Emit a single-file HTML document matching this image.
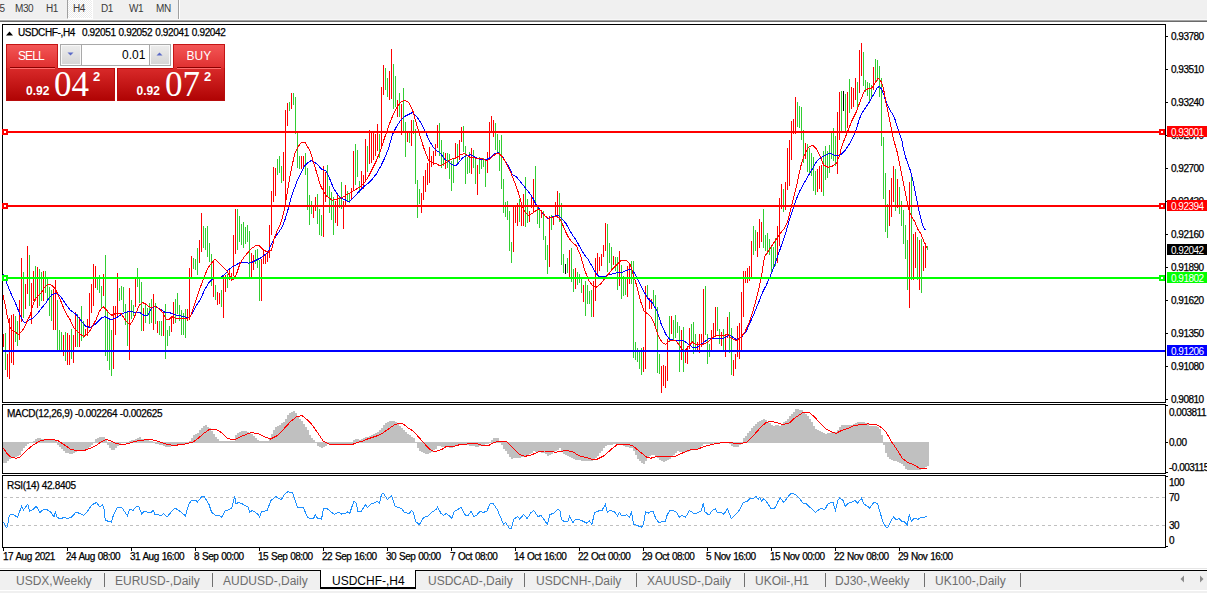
<!DOCTYPE html>
<html><head><meta charset="utf-8">
<style>
*{margin:0;padding:0;box-sizing:border-box}
html,body{width:1207px;height:593px;overflow:hidden;background:#fff}
body{position:relative;font-family:"Liberation Sans",sans-serif;color:#000}
.a{position:absolute}
.t{position:absolute;white-space:nowrap;line-height:1}
.tb{font-size:10px;color:#3a3a3a;letter-spacing:-0.4px}
.ps{-webkit-text-stroke:0.25px #000;font-size:10px;letter-spacing:-0.5px;left:1171px}
.ts{-webkit-text-stroke:0.25px #000;font-size:10px;letter-spacing:-0.55px;word-spacing:0.8px;top:552.3px;color:#000}
.tab{font-size:12px;color:#6d6d6d;top:575px}
.sep{position:absolute;top:573px;width:1px;height:14px;background:#707070}
.lbl{position:absolute;left:1167px;width:40px;height:11px}
.lbl span{position:absolute;left:4px;top:1.5px;font-size:10px;letter-spacing:-0.5px;color:#fff;line-height:1}
</style></head><body>
<!-- toolbar -->
<div class="a" style="left:0;top:0;width:1207px;height:19px;background:#f0f0f0"></div>
<div class="a" style="left:0;top:19px;width:1207px;height:1px;background:#f8f8f8"></div>
<div class="a" style="left:0;top:20px;width:1207px;height:1px;background:#a5a5a5"></div>
<div class="a" style="left:0;top:21px;width:1207px;height:1px;background:#6a6a6a"></div>
<!-- pressed H4 -->
<div class="a" style="left:67px;top:0;width:26px;height:19px;background:repeating-conic-gradient(#ffffff 0 25%,#ececec 0 50%) 0 0/2px 2px;border-left:1px solid #a0a0a0;border-right:1px solid #fff;border-bottom:1px solid #fff"></div>
<div class="a" style="left:178px;top:0;width:1px;height:19px;background:#a0a0a0"></div>
<div class="a" style="left:179px;top:0;width:1px;height:19px;background:#fff"></div>
<div class="t tb" style="left:-0.5px;top:3.5px">5</div>
<div class="t tb" style="left:15px;top:3.5px">M30</div>
<div class="t tb" style="left:46px;top:3.5px">H1</div>
<div class="t tb" style="left:73px;top:3.5px">H4</div>
<div class="t tb" style="left:101px;top:3.5px">D1</div>
<div class="t tb" style="left:129px;top:3.5px">W1</div>
<div class="t tb" style="left:156px;top:3.5px">MN</div>

<!-- chart graphics -->
<svg class="a" style="left:0;top:0" width="1207" height="593" viewBox="0 0 1207 593" shape-rendering="crispEdges">
<!-- frames -->
<rect x="2.5" y="24.5" width="1163" height="378" fill="none" stroke="#000"/>
<rect x="2.5" y="404.5" width="1163" height="69" fill="none" stroke="#000"/>
<rect x="2.5" y="475.5" width="1163" height="72" fill="none" stroke="#000"/>
<!-- price ticks -->
<path d="M1166 36.5h2M1166 69.5h2M1166 102.5h2M1166 135.5h2M1166 168.5h2M1166 201.5h2M1166 234.5h2M1166 267.5h2M1166 300.5h2M1166 333.5h2M1166 366.5h2M1166 399.5h2M1166 405.5h2M1166 442.5h2M1166 472.5h2M1166 476.5h2M1166 546.5h2" stroke="#000"/>
<!-- time ticks -->
<path d="M3.5 548v3M67.5 548v3M131.5 548v3M195.5 548v3M259.5 548v3M323.5 548v3M387.5 548v3M451.5 548v3M515.5 548v3M579.5 548v3M643.5 548v3M707.5 548v3M771.5 548v3M835.5 548v3M899.5 548v3" stroke="#000"/>
<!-- bars -->
<path d="M5.5 333V370M15.5 316V342M17.5 321V346M23.5 272V318M29.5 255V306M35.5 266V301M39.5 269V306M41.5 272V301M45.5 271V293M47.5 279V301M49.5 287V316M51.5 290V321M57.5 300V351M59.5 330V351M61.5 332V351M65.5 332V361M71.5 329V359M77.5 314V347M81.5 306V341M83.5 321V338M97.5 277V290M99.5 275V293M101.5 286V309M105.5 255V356M107.5 310V361M109.5 320V370M111.5 330V376M119.5 288V301M121.5 286V300M123.5 287V312M125.5 304V325M127.5 312V346M131.5 300V319M133.5 305V316M137.5 268V287M139.5 279V303M141.5 282V331M145.5 305V323M147.5 308V315M149.5 303V324M151.5 299V323M155.5 303V324M159.5 321V335M161.5 321V336M165.5 304V359M167.5 330V346M169.5 326V336M175.5 299V323M177.5 293V314M179.5 305V321M181.5 310V335M183.5 313V335M185.5 309V338M193.5 258V269M195.5 259V270M197.5 248V275M203.5 226V248M205.5 228V250M207.5 226V257M209.5 243V262M211.5 254V286M215.5 285V300M221.5 290V307M227.5 274V288M237.5 209V250M239.5 216V242M241.5 224V245M243.5 222V248M245.5 227V244M247.5 225V242M249.5 231V279M255.5 250V264M257.5 249V268M259.5 260V301M277.5 159V175M279.5 156V173M281.5 166V183M289.5 102V111M293.5 93V105M295.5 97V134M297.5 133V168M299.5 156V169M305.5 153V175M307.5 168V210M309.5 195V225M311.5 201V214M317.5 194V224M319.5 209V235M321.5 215V236M327.5 165V196M329.5 186V213M331.5 192V220M333.5 197V235M339.5 197V208M341.5 182V209M347.5 191V202M349.5 193V203M355.5 144V185M357.5 150V177M359.5 181V193M367.5 146V172M379.5 134V158M385.5 68V90M387.5 78V97M393.5 64V109M395.5 76V107M399.5 93V117M403.5 88V133M405.5 122V157M409.5 133V143M413.5 120V134M415.5 129V184M417.5 180V218M419.5 189V204M439.5 123V156M441.5 140V168M443.5 152V166M447.5 153V168M449.5 154V179M451.5 161V191M453.5 158V183M457.5 144V164M463.5 126V152M465.5 146V184M467.5 157V174M469.5 152V173M473.5 150V168M475.5 157V184M479.5 157V174M481.5 159V169M483.5 158V167M485.5 160V187M495.5 123V150M497.5 134V152M499.5 140V171M501.5 135V189M503.5 179V213M505.5 202V217M507.5 201V220M509.5 211V251M511.5 242V263M519.5 199V222M525.5 177V227M527.5 199V223M535.5 166V202M537.5 205V224M539.5 209V228M543.5 211V240M545.5 236V260M547.5 245V274M551.5 215V230M559.5 193V222M561.5 203V265M563.5 254V273M567.5 258V273M571.5 248V282M573.5 269V292M577.5 272V285M579.5 274V283M581.5 279V293M585.5 281V316M587.5 285V304M589.5 291V304M591.5 290V317M607.5 224V272M609.5 243V263M611.5 247V270M615.5 257V271M617.5 257V290M621.5 265V299M623.5 276V296M625.5 277V295M631.5 261V284M633.5 261V358M635.5 342V360M637.5 348V362M639.5 350V369M641.5 348V375M647.5 285V297M653.5 290V306M655.5 295V327M657.5 307V373M659.5 354V374M669.5 316V342M673.5 320V341M675.5 315V338M677.5 322V333M679.5 326V372M683.5 327V372M691.5 324V344M693.5 322V354M695.5 334V351M705.5 286V335M707.5 334V364M709.5 344V357M717.5 307V331M719.5 329V344M723.5 329V351M729.5 312V353M731.5 328V375M753.5 226V255M755.5 230V251M763.5 209V248M765.5 235V251M767.5 233V254M769.5 239V255M771.5 245V272M773.5 247V269M775.5 238V266M783.5 189V212M797.5 102V127M799.5 106V128M801.5 107V140M803.5 130V163M807.5 144V172M809.5 148V173M811.5 153V176M813.5 157V191M815.5 171V195M823.5 151V196M825.5 146V180M827.5 151V178M829.5 145V173M831.5 132V159M833.5 128V161M835.5 136V166M841.5 91V132M845.5 94V133M849.5 79V113M857.5 82V107M863.5 52V86M865.5 80V92M867.5 82V96M869.5 83V102M871.5 85V97M875.5 59V81M877.5 60V81M879.5 66V97M881.5 78V146M883.5 137V199M885.5 173V232M887.5 204V238M895.5 169V211M899.5 187V214M901.5 201V226M903.5 210V244M905.5 225V259M907.5 240V290M911.5 173V280M917.5 237V280M921.5 239V293M927.5 246V250" stroke="#32cd32" stroke-width="1" fill="none"/>
<path d="M3.5 334V347M7.5 354V377M9.5 318V379M11.5 315V363M13.5 314V365M19.5 300V340M21.5 258V322M25.5 284V309M27.5 246V294M31.5 283V324M33.5 271V301M37.5 267V308M43.5 271V301M53.5 289V330M55.5 280V330M63.5 335V356M67.5 333V365M69.5 335V365M73.5 335V363M75.5 312V347M79.5 317V347M85.5 329V336M87.5 319V336M89.5 293V328M91.5 284V313M93.5 264V306M95.5 266V288M103.5 274V296M113.5 306V369M115.5 306V335M117.5 273V318M129.5 288V360M135.5 279V307M143.5 308V331M153.5 294V330M157.5 321V333M163.5 312V336M171.5 316V332M173.5 302V324M187.5 309V321M189.5 268V320M191.5 256V278M199.5 240V263M201.5 213V252M213.5 261V297M217.5 292V305M219.5 293V304M223.5 275V318M225.5 275V292M229.5 269V280M231.5 273V281M233.5 235V276M235.5 209V254M251.5 253V279M253.5 255V270M261.5 259V301M263.5 250V264M265.5 254V264M267.5 253V262M269.5 225V258M271.5 191V235M273.5 167V202M275.5 168V196M283.5 152V181M285.5 110V206M287.5 103V126M291.5 93V109M301.5 156V169M303.5 156V168M313.5 207V218M315.5 197V211M323.5 166V237M325.5 172V202M335.5 201V223M337.5 195V226M343.5 201V229M345.5 185V206M351.5 188V200M353.5 151V190M361.5 171V189M363.5 175V189M365.5 139V181M369.5 130V164M371.5 132V163M373.5 132V160M375.5 134V156M377.5 124V151M381.5 87V147M383.5 65V95M389.5 71V100M391.5 49V99M397.5 100V117M401.5 104V135M407.5 131V142M411.5 120V146M421.5 193V213M423.5 176V200M425.5 170V192M427.5 163V185M429.5 147V183M431.5 156V167M433.5 151V165M435.5 144V156M437.5 125V148M445.5 153V169M455.5 143V158M459.5 140V160M461.5 127V142M471.5 148V174M477.5 165V195M487.5 152V173M489.5 122V157M491.5 116V133M493.5 120V137M513.5 205V252M515.5 206V223M517.5 203V226M521.5 203V226M523.5 194V226M529.5 211V222M531.5 195V208M533.5 179V213M541.5 210V218M549.5 216V267M553.5 216V225M555.5 202V216M557.5 191V216M569.5 250V278M575.5 268V289M583.5 285V302M593.5 281V317M595.5 258V301M597.5 253V276M599.5 257V271M601.5 254V266M603.5 245V257M605.5 223V251M613.5 256V265M619.5 251V286M627.5 266V297M629.5 263V284M643.5 347V372M645.5 286V369M649.5 298V309M651.5 299V309M661.5 366V393M663.5 365V386M665.5 366V388M667.5 339V381M671.5 316V334M681.5 330V360M685.5 349V363M687.5 346V364M689.5 328V349M697.5 342V352M699.5 334V353M701.5 334V347M703.5 289V345M711.5 330V350M713.5 323V337M715.5 307V337M721.5 332V346M725.5 334V357M727.5 317V338M733.5 360V376M735.5 354V369M737.5 326V357M739.5 323V359M741.5 292V351M743.5 271V317M745.5 271V283M747.5 268V283M749.5 266V281M751.5 241V278M757.5 232V257M759.5 219V248M761.5 222V242M777.5 226V263M779.5 198V246M781.5 184V209M785.5 182V210M787.5 148V190M789.5 140V186M791.5 121V160M793.5 119V134M795.5 97V134M805.5 143V159M817.5 169V192M819.5 166V189M821.5 165V192M837.5 112V174M839.5 92V140M847.5 92V128M851.5 87V109M853.5 88V107M855.5 78V100M859.5 50V93M861.5 43V76M873.5 67V90M889.5 190V226M891.5 178V217M893.5 166V202M897.5 179V208M909.5 182V308M913.5 234V280M915.5 232V268M919.5 240V290M923.5 246V271M925.5 243V268" stroke="#ff0000" stroke-width="1" fill="none"/>
<path d="M565.5 264V274M843.5 91V111" stroke="#000" stroke-width="1" fill="none"/>
<!-- MAs -->
<polyline points="3.0,273.7 6.1,281.3 9.1,288.9 12.2,296.5 15.2,302.5 18.2,310.0 20.5,316.2 22.8,320.8 25.1,323.0 27.3,320.8 30.4,319.2 33.4,317.7 36.5,314.7 39.5,310.9 42.5,307.0 45.6,303.3 48.6,298.7 51.6,295.0 55.4,293.4 58.0,294.0 61.1,297.0 64.1,301.6 67.2,306.2 70.2,310.0 73.2,312.3 76.3,314.6 79.3,318.4 82.3,322.2 85.4,326.0 90.0,327.5 93.0,326.0 96.0,323.7 99.0,320.6 102.1,317.6 105.1,316.8 108.2,318.4 111.2,319.9 116.6,317.6 121.1,314.6 125.7,312.3 130.2,311.5 134.8,312.3 139.3,312.3 143.9,315.3 147.7,315.3 151.5,308.5 155.3,306.2 159.1,308.5 162.9,310.8 165.9,313.0 169.0,312.3 172.0,313.8 178.1,315.5 183.0,316.5 188.2,317.6 192.3,313.5 196.4,305.4 200.4,299.3 204.5,290.2 208.5,283.1 212.6,279.0 218.6,278.0 222.7,276.0 226.8,272.0 228.0,270.2 232.0,267.2 236.1,265.1 240.2,262.1 244.2,262.1 248.3,263.1 252.3,262.1 256.4,260.0 260.4,258.0 264.5,255.0 268.5,252.0 270.0,247.2 274.1,239.0 278.1,233.0 282.2,227.0 285.2,218.9 288.2,208.8 291.3,196.7 294.3,188.6 297.3,180.5 301.4,172.4 305.0,165.4 308.0,162.5 311.5,160.3 317.5,164.3 321.6,169.4 325.6,170.4 329.6,178.5 333.7,188.6 337.7,194.6 341.8,198.7 345.0,199.7 349.0,201.9 357.4,193.4 360.0,190.4 364.0,186.3 368.1,183.3 372.2,179.2 376.2,174.2 380.3,167.1 384.3,159.0 388.4,148.9 392.4,134.7 396.5,126.6 400.5,120.5 404.6,116.5 408.6,114.4 412.7,112.4 416.7,116.5 420.8,122.5 424.8,130.6 428.9,139.7 432.9,146.8 437.0,150.9 440.0,152.9 444.4,158.8 448.4,161.8 452.5,164.9 455.5,165.9 458.6,162.8 462.6,157.8 466.7,155.7 470.7,154.7 474.0,156.7 478.0,158.7 482.1,159.7 486.2,159.7 490.2,157.7 494.3,153.7 498.3,152.6 502.4,156.7 506.4,162.8 509.5,167.8 512.5,174.9 516.6,177.0 520.6,182.0 524.7,187.1 528.7,192.2 532.4,197.2 536.4,205.3 540.5,210.3 544.5,215.4 547.6,218.4 551.6,217.4 555.7,215.8 558.7,215.8 561.7,218.4 566.0,223.5 568.0,227.2 572.1,234.3 576.2,240.4 580.2,247.5 584.3,254.6 588.3,259.7 592.4,266.8 596.4,273.9 599.5,276.9 604.5,276.9 608.6,274.9 612.7,273.9 616.7,272.8 620.8,272.8 626.7,270.4 631.4,269.2 635.0,273.9 638.5,281.0 643.3,290.4 648.0,298.7 652.7,303.4 657.4,311.7 661.0,323.5 665.7,334.1 669.2,338.9 674.0,340.5 678.7,340.0 684.0,340.9 688.1,343.9 692.2,347.0 696.2,348.0 700.3,344.9 704.3,341.9 708.4,338.9 714.5,338.9 720.5,338.9 724.6,337.8 728.7,335.8 730.0,335.4 736.1,339.5 741.1,337.4 746.2,331.4 750.3,322.2 754.3,313.1 758.4,303.0 762.4,292.8 766.5,284.7 770.5,275.6 774.6,265.5 776.4,260.0 781.9,244.0 786.3,230.8 790.7,215.5 795.1,202.3 799.5,191.4 803.8,183.7 808.2,176.0 812.6,168.4 817.0,160.7 821.4,157.4 825.8,155.2 830.1,153.0 834.5,155.2 840.0,155.2 841.2,154.4 845.5,150.0 849.5,143.6 853.6,136.2 856.3,129.5 859.0,120.0 861.7,113.2 865.1,108.5 869.1,102.4 872.5,96.4 876.0,90.3 876.8,88.4 879.2,86.4 881.5,89.0 883.5,93.8 885.5,99.9 887.6,105.3 890.3,110.7 893.0,114.7 895.0,119.5 897.0,126.2 899.1,132.3 901.8,140.0 902.7,146.0 905.8,158.0 910.3,170.3 913.3,182.4 916.4,197.6 919.4,212.7 922.4,224.8 925.5,230.3" fill="none" stroke="#0000ff" stroke-width="1"/>
<polyline points="3.0,295.0 5.3,305.6 7.6,317.7 9.9,326.8 12.2,330.6 15.2,332.0 18.2,334.4 21.3,332.0 24.3,327.6 27.3,320.8 30.4,314.7 32.7,305.6 34.9,299.5 38.0,295.7 41.0,293.4 44.0,288.0 47.1,285.0 49.4,284.3 52.4,285.8 55.4,288.9 58.0,294.8 61.1,301.6 64.1,309.2 67.2,315.3 70.2,319.9 73.2,326.7 76.3,330.5 79.3,333.5 83.9,336.6 86.9,334.3 90.0,330.5 93.0,325.2 96.0,319.9 99.0,312.3 101.3,308.5 103.6,307.0 106.6,310.0 109.7,313.8 112.0,315.3 115.0,313.8 118.1,313.0 121.1,313.8 124.2,318.4 127.2,322.2 130.2,324.4 133.3,319.9 136.3,312.3 139.3,305.4 142.4,302.4 145.4,303.9 148.5,306.2 151.5,307.7 154.5,306.2 157.6,307.7 160.6,310.0 163.6,313.8 165.9,319.1 169.0,319.6 172.0,316.8 176.0,318.5 182.0,319.0 187.0,318.5 190.3,316.6 193.3,308.5 196.4,299.3 200.4,287.2 204.5,276.0 208.5,267.0 212.6,261.8 215.0,259.2 218.6,262.8 222.7,267.0 226.8,271.0 229.5,276.0 233.0,280.0 236.5,274.0 240.2,263.0 244.2,257.0 248.3,252.0 252.3,248.0 256.4,245.3 259.4,245.9 262.5,249.0 265.5,251.0 268.5,252.0 271.6,250.0 274.1,239.0 277.1,231.0 280.2,225.0 283.2,214.8 285.2,204.7 287.2,192.6 289.2,180.5 292.3,164.3 295.3,152.2 298.3,146.2 301.4,142.5 305.0,142.1 310.2,151.3 315.3,168.1 320.3,185.0 325.4,195.1 332.1,200.2 340.5,198.5 349.0,193.4 357.4,188.4 360.0,187.3 364.0,183.3 368.1,177.2 372.2,169.1 376.2,161.0 380.3,150.9 384.3,138.7 388.4,126.6 392.4,116.5 396.5,108.4 400.5,102.3 404.6,100.3 408.6,102.3 412.7,110.4 416.7,124.6 420.8,138.7 424.8,150.9 428.9,161.0 432.9,163.0 437.0,164.0 440.0,166.1 444.4,163.9 448.4,160.8 452.5,158.8 456.5,157.8 460.6,154.7 464.7,153.7 467.7,155.7 470.7,157.8 474.0,157.7 478.0,158.7 482.1,158.7 486.2,160.7 489.2,159.7 492.2,156.7 496.3,153.7 499.3,153.7 502.4,156.7 506.4,163.8 510.5,171.9 514.5,182.0 517.6,190.1 520.6,200.3 522.7,207.0 525.3,212.4 528.3,215.4 532.4,213.4 536.4,210.3 539.4,209.3 542.5,212.4 545.5,216.4 548.6,218.4 552.6,217.4 555.7,216.4 558.7,217.4 561.7,222.5 566.0,232.6 568.0,236.4 572.1,242.4 576.2,245.5 580.2,254.6 584.3,268.8 588.3,279.9 592.4,285.4 596.4,287.0 600.5,284.0 604.5,278.9 608.6,273.9 612.7,268.8 616.7,264.7 620.8,260.7 626.7,260.9 630.3,264.4 633.8,276.3 637.4,288.1 640.9,302.2 644.4,311.7 648.0,314.1 651.5,317.6 655.1,325.9 658.6,336.5 662.2,342.4 665.7,344.3 669.2,341.2 672.8,340.0 676.3,341.2 679.9,346.0 684.0,352.0 688.1,347.0 692.2,341.9 696.2,344.9 700.3,344.9 704.3,343.9 708.4,341.9 712.4,337.8 716.5,335.4 720.5,335.8 724.6,335.4 728.7,334.2 730.0,337.4 736.1,340.5 741.1,337.4 745.2,331.4 749.3,322.2 752.3,313.1 755.3,303.0 758.4,290.8 761.4,276.6 764.4,257.0 773.0,244.0 779.7,234.0 784.1,228.6 787.4,222.0 790.7,208.9 794.0,195.8 797.3,182.6 800.5,167.3 803.8,156.3 808.2,147.5 812.6,145.3 817.0,149.7 820.3,156.3 823.6,165.0 828.0,167.3 832.3,166.2 836.7,162.9 840.0,154.1 840.7,150.0 844.1,140.3 846.8,133.5 849.5,126.8 852.2,120.0 854.2,116.0 856.3,111.9 858.3,106.5 860.3,101.1 863.0,94.3 865.1,90.3 867.8,88.9 870.5,88.9 873.2,86.2 876.0,81.5 878.1,78.2 880.8,81.0 882.8,85.7 884.2,92.4 885.5,100.5 887.6,110.0 889.6,119.5 891.6,130.3 893.6,140.0 896.7,150.0 899.7,164.2 902.7,179.4 905.8,194.5 908.8,209.7 911.8,217.3 914.8,221.8 917.9,229.4 920.9,234.0 923.9,241.5 927.0,247.6" fill="none" stroke="#ff0000" stroke-width="1"/>
<!-- horizontal lines -->
<rect x="3" y="131" width="1162" height="2" fill="#ff0000"/>
<rect x="3" y="205" width="1162" height="2" fill="#ff0000"/>
<rect x="3" y="277" width="1162" height="2" fill="#00ff00"/>
<rect x="3" y="350" width="1162" height="2" fill="#0000ff"/>
<!-- markers -->
<g fill="#fff" stroke-width="2">
<rect x="3" y="130" width="4" height="4" stroke="#ff0000"/>
<rect x="1160" y="130" width="4" height="4" stroke="#ff0000"/>
<rect x="3" y="204" width="4" height="4" stroke="#ff0000"/>
<rect x="1160" y="204" width="4" height="4" stroke="#ff0000"/>
<rect x="3" y="276" width="4" height="4" stroke="#00ff00"/>
<rect x="1160" y="276" width="4" height="4" stroke="#00ff00"/>
</g>
<!-- MACD -->
<path d="M3 442h2V463h-2zM5 442h2V463h-2zM7 442h2V461h-2zM9 442h2V459h-2zM11 442h2V458h-2zM13 442h2V458h-2zM15 442h2V457h-2zM17 442h2V456h-2zM19 442h2V455h-2zM21 442h2V451h-2zM23 442h2V448h-2zM25 442h2V446h-2zM27 442h2V444h-2zM29 442h2V443h-2zM31 442h2V443h-2zM33 441h2V443h-2zM35 439h2V443h-2zM37 438h2V443h-2zM39 438h2V443h-2zM41 439h2V443h-2zM43 439h2V443h-2zM45 439h2V443h-2zM47 439h2V443h-2zM49 439h2V443h-2zM51 440h2V443h-2zM53 440h2V443h-2zM55 441h2V443h-2zM57 442h2V445h-2zM59 442h2V447h-2zM61 442h2V449h-2zM63 442h2V451h-2zM65 442h2V453h-2zM67 442h2V453h-2zM69 442h2V454h-2zM71 442h2V454h-2zM73 442h2V453h-2zM75 442h2V452h-2zM77 442h2V451h-2zM79 442h2V451h-2zM81 442h2V451h-2zM83 442h2V450h-2zM85 442h2V450h-2zM87 442h2V449h-2zM89 442h2V447h-2zM91 442h2V445h-2zM93 442h2V443h-2zM95 439h2V443h-2zM97 438h2V443h-2zM99 437h2V443h-2zM101 437h2V443h-2zM103 437h2V443h-2zM105 440h2V443h-2zM107 442h2V445h-2zM109 442h2V448h-2zM111 442h2V450h-2zM113 442h2V450h-2zM115 442h2V448h-2zM117 442h2V446h-2zM119 442h2V444h-2zM121 442h2V443h-2zM123 442h2V443h-2zM125 442h2V443h-2zM127 442h2V443h-2zM129 441h2V443h-2zM131 440h2V443h-2zM133 440h2V443h-2zM135 439h2V443h-2zM137 438h2V443h-2zM139 437h2V443h-2zM141 439h2V443h-2zM143 439h2V443h-2zM145 440h2V443h-2zM147 440h2V443h-2zM149 441h2V443h-2zM151 441h2V443h-2zM153 442h2V443h-2zM155 442h2V444h-2zM157 442h2V444h-2zM159 442h2V445h-2zM161 442h2V445h-2zM163 442h2V446h-2zM165 442h2V447h-2zM167 442h2V447h-2zM169 442h2V447h-2zM171 442h2V446h-2zM173 442h2V446h-2zM175 442h2V445h-2zM177 442h2V445h-2zM179 442h2V444h-2zM181 442h2V444h-2zM183 442h2V444h-2zM185 442h2V444h-2zM187 442h2V443h-2zM189 441h2V443h-2zM191 438h2V443h-2zM193 435h2V443h-2zM195 434h2V443h-2zM197 433h2V443h-2zM199 430h2V443h-2zM201 428h2V443h-2zM203 426h2V443h-2zM205 425h2V443h-2zM207 427h2V443h-2zM209 428h2V443h-2zM211 431h2V443h-2zM213 434h2V443h-2zM215 437h2V443h-2zM217 439h2V443h-2zM219 441h2V443h-2zM221 441h2V443h-2zM223 441h2V443h-2zM225 441h2V443h-2zM227 441h2V443h-2zM229 441h2V443h-2zM231 441h2V443h-2zM233 441h2V443h-2zM235 435h2V443h-2zM237 433h2V443h-2zM239 432h2V443h-2zM241 431h2V443h-2zM243 431h2V443h-2zM245 431h2V443h-2zM247 432h2V443h-2zM249 433h2V443h-2zM251 434h2V443h-2zM253 436h2V443h-2zM255 438h2V443h-2zM257 440h2V443h-2zM259 441h2V443h-2zM261 441h2V443h-2zM263 441h2V443h-2zM265 441h2V443h-2zM267 441h2V443h-2zM269 438h2V443h-2zM271 434h2V443h-2zM273 430h2V443h-2zM275 427h2V443h-2zM277 426h2V443h-2zM279 425h2V443h-2zM281 423h2V443h-2zM283 422h2V443h-2zM285 419h2V443h-2zM287 415h2V443h-2zM289 413h2V443h-2zM291 412h2V443h-2zM293 411h2V443h-2zM295 413h2V443h-2zM297 416h2V443h-2zM299 419h2V443h-2zM301 421h2V443h-2zM303 424h2V443h-2zM305 427h2V443h-2zM307 430h2V443h-2zM309 435h2V443h-2zM311 438h2V443h-2zM313 440h2V443h-2zM315 442h2V443h-2zM317 442h2V446h-2zM319 442h2V447h-2zM321 442h2V448h-2zM323 442h2V447h-2zM325 442h2V446h-2zM327 442h2V444h-2zM329 442h2V444h-2zM331 442h2V444h-2zM333 442h2V444h-2zM335 442h2V444h-2zM337 442h2V444h-2zM339 442h2V444h-2zM341 442h2V444h-2zM343 442h2V444h-2zM345 442h2V444h-2zM347 442h2V444h-2zM349 442h2V444h-2zM351 442h2V444h-2zM353 440h2V443h-2zM355 439h2V443h-2zM357 439h2V443h-2zM359 440h2V443h-2zM361 439h2V443h-2zM363 438h2V443h-2zM365 437h2V443h-2zM367 437h2V443h-2zM369 436h2V443h-2zM371 435h2V443h-2zM373 434h2V443h-2zM375 433h2V443h-2zM377 432h2V443h-2zM379 430h2V443h-2zM381 428h2V443h-2zM383 425h2V443h-2zM385 423h2V443h-2zM387 422h2V443h-2zM389 421h2V443h-2zM391 421h2V443h-2zM393 421h2V443h-2zM395 422h2V443h-2zM397 424h2V443h-2zM399 426h2V443h-2zM401 428h2V443h-2zM403 430h2V443h-2zM405 432h2V443h-2zM407 434h2V443h-2zM409 435h2V443h-2zM411 437h2V443h-2zM413 438h2V443h-2zM415 442h2V443h-2zM417 442h2V448h-2zM419 442h2V451h-2zM421 442h2V452h-2zM423 442h2V453h-2zM425 442h2V454h-2zM427 442h2V454h-2zM429 442h2V453h-2zM431 442h2V452h-2zM433 442h2V450h-2zM435 442h2V449h-2zM437 442h2V446h-2zM439 442h2V446h-2zM441 442h2V447h-2zM443 442h2V447h-2zM445 442h2V447h-2zM447 442h2V447h-2zM449 442h2V448h-2zM451 442h2V448h-2zM453 442h2V447h-2zM455 442h2V446h-2zM457 442h2V446h-2zM459 442h2V445h-2zM461 442h2V444h-2zM463 442h2V444h-2zM465 442h2V445h-2zM467 442h2V445h-2zM469 442h2V446h-2zM471 442h2V446h-2zM473 442h2V446h-2zM475 442h2V447h-2zM477 442h2V447h-2zM479 442h2V446h-2zM481 442h2V445h-2zM483 442h2V445h-2zM485 442h2V444h-2zM487 442h2V444h-2zM489 442h2V443h-2zM491 440h2V443h-2zM493 438h2V443h-2zM495 438h2V443h-2zM497 438h2V443h-2zM499 441h2V443h-2zM501 442h2V445h-2zM503 442h2V449h-2zM505 442h2V451h-2zM507 442h2V454h-2zM509 442h2V457h-2zM511 442h2V459h-2zM513 442h2V458h-2zM515 442h2V458h-2zM517 442h2V458h-2zM519 442h2V458h-2zM521 442h2V457h-2zM523 442h2V457h-2zM525 442h2V456h-2zM527 442h2V455h-2zM529 442h2V454h-2zM531 442h2V453h-2zM533 442h2V451h-2zM535 442h2V452h-2zM537 442h2V452h-2zM539 442h2V452h-2zM541 442h2V453h-2zM543 442h2V453h-2zM545 442h2V454h-2zM547 442h2V456h-2zM549 442h2V455h-2zM551 442h2V454h-2zM553 442h2V452h-2zM555 442h2V451h-2zM557 442h2V450h-2zM559 442h2V448h-2zM561 442h2V451h-2zM563 442h2V454h-2zM565 442h2V455h-2zM567 442h2V456h-2zM569 442h2V457h-2zM571 442h2V458h-2zM573 442h2V459h-2zM575 442h2V460h-2zM577 442h2V460h-2zM579 442h2V460h-2zM581 442h2V461h-2zM583 442h2V461h-2zM585 442h2V461h-2zM587 442h2V461h-2zM589 442h2V461h-2zM591 442h2V461h-2zM593 442h2V460h-2zM595 442h2V458h-2zM597 442h2V456h-2zM599 442h2V453h-2zM601 442h2V451h-2zM603 442h2V448h-2zM605 442h2V446h-2zM607 442h2V445h-2zM609 442h2V445h-2zM611 442h2V445h-2zM613 442h2V444h-2zM615 442h2V444h-2zM617 442h2V444h-2zM619 442h2V445h-2zM621 442h2V445h-2zM623 442h2V446h-2zM625 442h2V447h-2zM627 442h2V447h-2zM629 442h2V448h-2zM631 442h2V448h-2zM633 442h2V451h-2zM635 442h2V455h-2zM637 442h2V459h-2zM639 442h2V461h-2zM641 442h2V463h-2zM643 442h2V464h-2zM645 442h2V461h-2zM647 442h2V458h-2zM649 442h2V456h-2zM651 442h2V455h-2zM653 442h2V455h-2zM655 442h2V456h-2zM657 442h2V458h-2zM659 442h2V460h-2zM661 442h2V461h-2zM663 442h2V462h-2zM665 442h2V461h-2zM667 442h2V460h-2zM669 442h2V459h-2zM671 442h2V457h-2zM673 442h2V455h-2zM675 442h2V453h-2zM677 442h2V451h-2zM679 442h2V452h-2zM681 442h2V452h-2zM683 442h2V453h-2zM685 442h2V452h-2zM687 442h2V452h-2zM689 442h2V451h-2zM691 442h2V450h-2zM693 442h2V449h-2zM695 442h2V449h-2zM697 442h2V449h-2zM699 442h2V448h-2zM701 442h2V446h-2zM703 442h2V444h-2zM705 442h2V444h-2zM707 442h2V444h-2zM709 442h2V444h-2zM711 442h2V444h-2zM713 442h2V443h-2zM715 442h2V443h-2zM717 442h2V443h-2zM719 442h2V443h-2zM721 442h2V443h-2zM723 442h2V443h-2zM725 442h2V443h-2zM727 442h2V443h-2zM729 442h2V444h-2zM731 442h2V446h-2zM733 442h2V447h-2zM735 442h2V447h-2zM737 442h2V447h-2zM739 442h2V445h-2zM741 442h2V443h-2zM743 438h2V443h-2zM745 436h2V443h-2zM747 433h2V443h-2zM749 431h2V443h-2zM751 428h2V443h-2zM753 426h2V443h-2zM755 424h2V443h-2zM757 422h2V443h-2zM759 421h2V443h-2zM761 420h2V443h-2zM763 419h2V443h-2zM765 420h2V443h-2zM767 422h2V443h-2zM769 423h2V443h-2zM771 425h2V443h-2zM773 426h2V443h-2zM775 425h2V443h-2zM777 425h2V443h-2zM779 426h2V443h-2zM781 424h2V443h-2zM783 422h2V443h-2zM785 421h2V443h-2zM787 419h2V443h-2zM789 416h2V443h-2zM791 414h2V443h-2zM793 412h2V443h-2zM795 409h2V443h-2zM797 409h2V443h-2zM799 410h2V443h-2zM801 410h2V443h-2zM803 412h2V443h-2zM805 414h2V443h-2zM807 416h2V443h-2zM809 419h2V443h-2zM811 422h2V443h-2zM813 426h2V443h-2zM815 429h2V443h-2zM817 430h2V443h-2zM819 431h2V443h-2zM821 432h2V443h-2zM823 433h2V443h-2zM825 434h2V443h-2zM827 433h2V443h-2zM829 433h2V443h-2zM831 432h2V443h-2zM833 432h2V443h-2zM835 432h2V443h-2zM837 430h2V443h-2zM839 427h2V443h-2zM841 425h2V443h-2zM843 425h2V443h-2zM845 425h2V443h-2zM847 425h2V443h-2zM849 425h2V443h-2zM851 425h2V443h-2zM853 424h2V443h-2zM855 423h2V443h-2zM857 422h2V443h-2zM859 422h2V443h-2zM861 422h2V443h-2zM863 422h2V443h-2zM865 423h2V443h-2zM867 424h2V443h-2zM869 426h2V443h-2zM871 426h2V443h-2zM873 426h2V443h-2zM875 426h2V443h-2zM877 427h2V443h-2zM879 429h2V443h-2zM881 435h2V443h-2zM883 442h2V445h-2zM885 442h2V453h-2zM887 442h2V457h-2zM889 442h2V459h-2zM891 442h2V460h-2zM893 442h2V461h-2zM895 442h2V461h-2zM897 442h2V462h-2zM899 442h2V463h-2zM901 442h2V464h-2zM903 442h2V466h-2zM905 442h2V469h-2zM907 442h2V470h-2zM909 442h2V470h-2zM911 442h2V470h-2zM913 442h2V470h-2zM915 442h2V470h-2zM917 442h2V470h-2zM919 442h2V470h-2zM921 442h2V469h-2zM923 442h2V468h-2zM925 442h2V467h-2zM927 442h2V466h-2z" fill="#c0c0c0"/>
<polyline points="3.3,447.7 6.6,453.0 10.6,457.0 15.9,458.3 19.9,457.0 26.5,450.4 33.1,445.0 39.8,441.0 46.4,439.5 53.0,439.5 58.3,440.8 63.6,444.4 70.3,449.0 76.9,451.0 83.5,450.7 90.1,448.4 96.8,445.0 102.0,441.4 106.0,439.5 110.0,440.5 115.3,443.0 122.0,445.0 127.3,443.8 132.6,442.2 139.2,440.5 148.5,439.5 155.0,440.2 161.6,442.4 168.3,444.8 174.9,445.4 181.5,444.4 186.8,443.8 193.4,441.8 198.7,437.8 204.0,433.2 209.3,429.5 216.0,429.5 221.3,432.5 226.6,437.8 231.9,439.8 235.9,439.1 241.2,436.5 247.8,433.8 251.8,432.5 258.4,433.8 265.0,436.9 270.3,439.1 277.0,435.8 283.6,429.2 290.2,421.9 296.8,416.6 302.1,415.7 307.4,419.9 311.4,424.0 316.6,431.2 323.3,441.1 329.9,444.4 352.4,444.4 357.7,442.4 363.0,441.1 368.3,438.7 376.3,436.1 381.6,433.8 388.2,429.2 394.8,424.5 398.8,423.6 402.8,423.6 408.1,427.9 413.4,431.2 418.7,437.1 424.0,443.1 429.3,449.0 433.3,451.0 437.3,451.0 442.6,449.0 446.5,446.4 453.2,446.4 458.5,445.0 463.8,444.4 471.6,443.5 476.9,443.8 482.2,445.4 488.9,445.4 494.2,442.4 499.5,441.4 506.1,441.4 512.7,447.7 519.3,454.4 524.7,456.4 531.3,455.0 537.9,452.0 544.5,451.0 551.2,451.0 555.1,452.4 560.4,451.5 565.7,450.4 572.4,451.5 579.0,455.7 587.0,457.7 592.3,459.4 597.6,459.0 604.2,455.7 610.8,449.7 617.4,444.4 628.0,444.4 633.3,446.2 639.9,451.7 646.5,457.0 650.5,458.3 657.1,456.4 666.4,456.8 674.3,457.0 681.0,453.7 688.9,450.1 698.2,449.0 704.8,446.2 712.8,444.4 718.1,443.1 726.0,442.7 731.3,442.4 736.6,444.0 742.0,443.4 747.3,441.8 752.6,436.5 757.9,430.5 761.8,426.3 765.8,422.8 771.1,421.2 776.4,422.6 781.6,424.1 788.3,423.9 794.9,417.9 802.8,412.6 809.5,412.6 814.8,417.3 820.1,423.2 825.4,428.5 832.0,432.1 836.0,433.4 841.3,430.5 847.9,428.5 854.5,425.5 861.2,424.5 867.8,423.9 875.7,424.5 881.0,427.2 886.3,432.5 891.6,441.8 897.0,449.7 902.3,458.3 907.5,462.3 914.2,465.0 919.5,468.3 926.8,468.3" fill="none" stroke="#ff0000" stroke-width="1"/>
<!-- RSI levels -->
<line x1="4" y1="497.5" x2="1165" y2="497.5" stroke="#c0c0c0" stroke-dasharray="3 3"/>
<line x1="4" y1="525.5" x2="1165" y2="525.5" stroke="#c0c0c0" stroke-dasharray="3 3"/>
<polyline points="3.4,522.0 6.1,527.3 7.4,526.7 9.4,515.2 12.8,514.5 17.5,517.2 21.6,506.4 23.6,509.8 27.7,504.4 29.7,511.1 32.4,509.8 36.4,506.4 39.8,512.5 43.2,509.8 47.2,509.8 51.3,512.5 54.0,517.2 55.3,511.8 56.7,516.5 60.0,519.2 64.1,517.2 66.8,518.6 71.5,517.2 75.6,512.5 79.6,513.2 83.7,515.2 87.7,511.1 91.8,505.0 96.5,502.4 99.9,507.1 102.6,505.0 103.9,508.4 105.3,519.9 108.0,521.3 111.3,522.0 113.4,515.2 117.4,507.1 121.5,507.1 124.2,511.1 127.5,515.9 129.6,509.1 132.9,510.5 136.3,506.4 139.0,507.1 141.7,513.8 144.4,511.1 148.4,512.5 151.1,512.5 153.2,510.5 155.2,514.9 157.7,514.5 161.1,515.5 163.8,513.6 167.1,517.2 171.2,511.8 175.2,508.2 180.6,511.8 185.4,515.9 188.7,504.4 191.4,500.3 195.5,500.3 197.5,502.0 201.6,496.6 204.3,496.6 209.0,504.4 211.7,512.5 215.7,515.5 219.1,515.2 221.8,517.2 225.2,510.5 227.9,510.0 231.9,507.8 234.6,496.3 236.0,503.7 238.7,502.4 242.7,504.1 248.1,507.1 249.5,512.2 252.2,510.5 257.6,513.8 259.6,517.2 261.6,511.8 267.0,510.5 271.1,500.3 275.8,496.6 281.2,499.7 284.6,494.3 287.9,491.6 292.7,492.9 297.4,507.4 303.4,507.8 307.5,517.2 310.0,518.6 313.4,518.6 315.4,514.9 317.4,518.2 321.5,519.2 323.5,508.7 326.9,508.4 330.2,511.1 334.3,514.5 338.3,512.2 341.7,514.1 345.8,513.2 347.8,511.8 349.8,513.2 351.8,507.1 353.9,501.4 355.9,502.4 357.9,511.4 361.3,511.4 365.3,504.4 367.4,507.4 371.4,503.7 374.8,502.8 377.5,501.4 379.5,503.3 381.5,494.3 383.5,493.3 387.6,499.7 391.6,495.6 395.0,506.4 399.1,507.8 401.8,508.7 403.8,511.8 409.2,513.8 411.2,510.5 413.2,512.5 415.9,521.7 419.3,524.6 423.4,517.9 428.8,515.5 432.8,511.4 435.5,510.5 437.5,506.8 440.9,513.2 443.6,515.5 446.3,513.2 451.7,518.2 454.4,511.4 457.1,510.0 461.1,507.4 465.2,514.9 467.7,515.9 471.1,511.4 473.8,516.3 476.5,515.5 479.8,511.4 482.5,512.2 486.6,511.8 490.0,503.7 493.3,503.7 497.4,509.8 500.8,517.9 503.5,524.0 505.5,522.6 509.5,528.4 511.6,528.0 513.6,519.2 517.6,516.5 519.7,519.2 523.7,514.5 527.1,518.6 531.1,512.5 533.8,510.5 537.9,516.5 541.2,515.5 547.3,524.4 550.0,514.5 554.1,513.2 558.1,509.1 560.1,511.1 561.5,519.9 564.9,521.7 567.6,521.9 569.6,516.3 573.0,522.6 575.7,519.2 579.0,519.5 582.4,520.9 586.5,523.0 589.2,520.9 591.9,524.4 594.6,512.5 597.9,511.1 602.0,510.5 605.3,504.4 607.4,512.2 610.1,510.5 614.1,511.4 617.5,515.9 619.5,512.5 621.5,515.5 626.7,514.9 629.4,517.2 631.5,512.2 633.5,524.0 636.9,525.3 641.6,527.3 643.6,524.0 645.6,511.8 648.3,513.2 651.0,511.4 653.1,511.4 655.8,518.6 659.1,523.0 662.5,521.3 665.2,521.3 667.2,514.9 669.9,510.5 673.3,510.5 676.7,512.5 679.4,517.2 682.1,515.5 685.5,517.2 689.5,510.5 694.9,514.1 701.0,511.1 703.4,503.3 705.0,511.8 709.1,515.2 711.8,511.1 715.1,508.7 717.2,512.2 721.2,512.2 723.9,514.5 727.3,508.4 731.3,518.6 738.1,512.2 743.5,502.4 747.5,501.0 750.2,498.3 753.6,498.3 755.6,496.3 758.3,499.0 759.7,497.4 761.7,501.4 763.7,498.3 768.4,504.4 771.1,509.1 775.2,507.8 777.9,501.7 780.4,497.9 783.8,502.4 787.8,497.0 791.2,493.3 795.2,494.3 799.3,498.3 803.3,503.7 806.0,503.3 809.4,506.8 815.5,512.2 820.9,508.2 824.9,509.5 828.3,503.3 833.0,502.4 835.5,510.5 837.8,500.3 839.8,497.9 843.2,500.6 845.2,506.4 847.9,503.3 851.9,502.0 855.3,500.6 857.3,503.3 861.4,498.3 864.1,504.1 868.1,506.8 869.5,508.2 874.2,502.0 877.6,503.7 880.3,513.2 883.0,522.0 885.7,526.7 887.7,528.0 891.1,520.6 893.8,516.5 895.8,519.9 899.2,518.6 901.9,521.3 904.6,521.9 907.3,525.3 909.3,514.5 911.3,521.3 914.0,518.6 916.7,518.6 918.0,519.5 920.7,517.2 923.4,517.6 926.8,516.3" fill="none" stroke="#1e90ff" stroke-width="1"/>
</svg>

<!-- title -->
<svg class="a" style="left:6px;top:31px" width="8" height="5"><polygon points="0,4.5 3.5,0.5 7,4.5" fill="#000"/></svg>
<div class="t" style="-webkit-text-stroke:0.25px #000;left:18px;top:27.5px;font-size:10px;letter-spacing:-0.35px;word-spacing:0.5px">USDCHF-,H4&nbsp;&nbsp;<span style="margin-left:1px"></span>0.92051 0.92052 0.92041 0.92042</div>

<!-- trade panel -->
<div class="a" style="left:6px;top:44px;width:52px;height:24px;background:linear-gradient(#f35656,#df2e2e);border:1px solid #c41414;border-bottom:none"></div>
<div class="a" style="left:173px;top:44px;width:52px;height:24px;background:linear-gradient(#f35656,#e03030);border:1px solid #c41414;border-bottom:none"></div>
<div class="a" style="left:6px;top:68px;width:109px;height:33px;background:linear-gradient(#d92a2a,#b00404);border:1px solid #b80c0c;border-top:none"></div>
<div class="a" style="left:117px;top:68px;width:108px;height:33px;background:linear-gradient(#d92a2a,#b00404);border:1px solid #b80c0c;border-top:none"></div>
<div class="a" style="left:10px;top:67px;width:45px;height:1px;background:#8a0000"></div>
<div class="a" style="left:10px;top:68px;width:45px;height:1px;background:#ff6e6e"></div>
<div class="a" style="left:177px;top:67px;width:44px;height:1px;background:#8a0000"></div>
<div class="a" style="left:177px;top:68px;width:44px;height:1px;background:#ff6e6e"></div>
<div class="t" style="left:18px;top:50px;font-size:12px;color:#fff;letter-spacing:-0.9px">SELL</div>
<div class="t" style="left:186.5px;top:50px;font-size:12px;color:#fff">BUY</div>
<div class="t" style="left:26px;top:85px;font-size:12px;font-weight:bold;color:#fff">0.92</div>
<div class="t" style="left:54px;top:67px;font-size:35px;font-family:'Liberation Serif',serif;letter-spacing:0px;color:#fff">04</div>
<div class="t" style="left:93px;top:70px;font-size:13px;font-weight:bold;color:#fff">2</div>
<div class="t" style="left:136.5px;top:85px;font-size:12px;font-weight:bold;color:#fff">0.92</div>
<div class="t" style="left:165px;top:67px;font-size:35px;font-family:'Liberation Serif',serif;letter-spacing:0px;color:#fff">07</div>
<div class="t" style="left:204px;top:70px;font-size:13px;font-weight:bold;color:#fff">2</div>
<div class="a" style="left:58px;top:68px;width:57px;height:1px;background:#c00a0a"></div>
<div class="a" style="left:117px;top:68px;width:56px;height:1px;background:#c00a0a"></div>
<!-- spin -->
<div class="a" style="left:60px;top:44px;width:111px;height:22px;background:#fff;border:1px solid #a9a9a9"></div>
<div class="a" style="left:61px;top:45px;width:20px;height:20px;background:linear-gradient(#ececec,#d6d6d6);border:1px solid #f8f8f8"></div>
<div class="a" style="left:81px;top:45px;width:1px;height:20px;background:#a9a9a9"></div>
<div class="a" style="left:149px;top:45px;width:1px;height:20px;background:#a9a9a9"></div>
<div class="a" style="left:150px;top:45px;width:20px;height:20px;background:linear-gradient(#ececec,#d6d6d6);border:1px solid #f8f8f8"></div>
<svg class="a" style="left:67px;top:52px" width="8" height="5"><polygon points="0.5,0.5 6.5,0.5 3.5,3.5" fill="#5a6ac8"/></svg>
<svg class="a" style="left:156px;top:52px" width="8" height="5"><polygon points="0.5,3.5 6.5,3.5 3.5,0.5" fill="#5a6ac8"/></svg>
<div class="t" style="left:122px;top:48.5px;font-size:12px;color:#000">0.01</div>

<!-- price scale labels -->
<div class="t ps" style="top:31.5px">0.93780</div>
<div class="t ps" style="top:64.5px">0.93510</div>
<div class="t ps" style="top:97.5px">0.93240</div>
<div class="t ps" style="top:130.5px">0.92970</div>
<div class="t ps" style="top:163.5px">0.92700</div>
<div class="t ps" style="top:196.5px">0.92430</div>
<div class="t ps" style="top:229.5px">0.92160</div>
<div class="t ps" style="top:262.5px">0.91890</div>
<div class="t ps" style="top:295.5px">0.91620</div>
<div class="t ps" style="top:328.5px">0.91350</div>
<div class="t ps" style="top:361.5px">0.91080</div>
<div class="t ps" style="top:394.5px">0.90810</div>
<div class="lbl" style="top:126px;background:#ff0000"><span>0.93001</span></div>
<div class="lbl" style="top:200px;background:#ff0000"><span>0.92394</span></div>
<div class="lbl" style="top:244px;background:#000"><span>0.92042</span></div>
<div class="lbl" style="top:272px;background:#00ff00"><span>0.91802</span></div>
<div class="lbl" style="top:345px;background:#0000ff"><span>0.91206</span></div>

<!-- MACD labels -->
<div class="t" style="-webkit-text-stroke:0.25px #000;left:7px;top:409px;font-size:10px;letter-spacing:-0.3px">MACD(12,26,9) -0.002264 -0.002625</div>
<div class="t ps" style="left:1169px;top:408px">0.003811</div>
<div class="t ps" style="left:1169px;top:437.5px">0.00</div>
<div class="t ps" style="left:1169px;top:462.5px">-0.003115</div>
<!-- RSI labels -->
<div class="t" style="-webkit-text-stroke:0.25px #000;left:7px;top:480.5px;font-size:10px;letter-spacing:-0.3px">RSI(14) 42.8405</div>
<div class="t ps" style="left:1169px;top:477.5px">100</div>
<div class="t ps" style="left:1169px;top:492.5px">70</div>
<div class="t ps" style="left:1169px;top:520.5px">30</div>
<div class="t ps" style="left:1169px;top:535.5px">0</div>

<!-- time axis -->
<div class="t ts" style="left:3px">17 Aug 2021</div>
<div class="t ts" style="left:66px">24 Aug 08:00</div>
<div class="t ts" style="left:130px">31 Aug 16:00</div>
<div class="t ts" style="left:194px">8 Sep 00:00</div>
<div class="t ts" style="left:258px">15 Sep 08:00</div>
<div class="t ts" style="left:322px">22 Sep 16:00</div>
<div class="t ts" style="left:386px">30 Sep 00:00</div>
<div class="t ts" style="left:450px">7 Oct 08:00</div>
<div class="t ts" style="left:514px">14 Oct 16:00</div>
<div class="t ts" style="left:578px">22 Oct 00:00</div>
<div class="t ts" style="left:642px">29 Oct 08:00</div>
<div class="t ts" style="left:706px">5 Nov 16:00</div>
<div class="t ts" style="left:770px">15 Nov 00:00</div>
<div class="t ts" style="left:834px">22 Nov 08:00</div>
<div class="t ts" style="left:898px">29 Nov 16:00</div>

<!-- tab bar -->
<div class="a" style="left:0;top:568px;width:1207px;height:1px;background:#e6e6e6"></div>
<div class="a" style="left:0;top:570px;width:1207px;height:1px;background:#000"></div>
<div class="a" style="left:0;top:571px;width:1207px;height:19px;background:#f0f0f0"></div>
<div class="a" style="left:0;top:590px;width:1207px;height:1px;background:#fff"></div>
<div class="a" style="left:0;top:591px;width:1207px;height:2px;background:#f0f0f0"></div>
<div class="a" style="left:320px;top:570px;width:96px;height:19px;background:#fff;border:1px solid #000;border-top:none;border-width:0 1px 2px 1px"></div>
<div class="t tab" style="left:16px">USDX,Weekly</div>
<div class="sep" style="left:104px"></div>
<div class="t tab" style="left:115px">EURUSD-,Daily</div>
<div class="sep" style="left:212px"></div>
<div class="t tab" style="left:223px">AUDUSD-,Daily</div>
<div class="t tab" style="left:332px;color:#000">USDCHF-,H4</div>
<div class="t tab" style="left:428px">USDCAD-,Daily</div>
<div class="sep" style="left:524px"></div>
<div class="t tab" style="left:536px">USDCNH-,Daily</div>
<div class="sep" style="left:636px"></div>
<div class="t tab" style="left:647px">XAUUSD-,Daily</div>
<div class="sep" style="left:744px"></div>
<div class="t tab" style="left:755px">UKOil-,H1</div>
<div class="sep" style="left:825px"></div>
<div class="t tab" style="left:835px">DJ30-,Weekly</div>
<div class="sep" style="left:924px"></div>
<div class="t tab" style="left:935px">UK100-,Daily</div>
<div class="sep" style="left:1020px"></div>
<svg class="a" style="left:1180px;top:575px" width="27" height="9"><polygon points="4,0.5 4,7.5 0.5,4" fill="#8c8c8c"/><polygon points="20,0.5 20,7.5 23.5,4" fill="#8c8c8c"/></svg>
</body></html>
